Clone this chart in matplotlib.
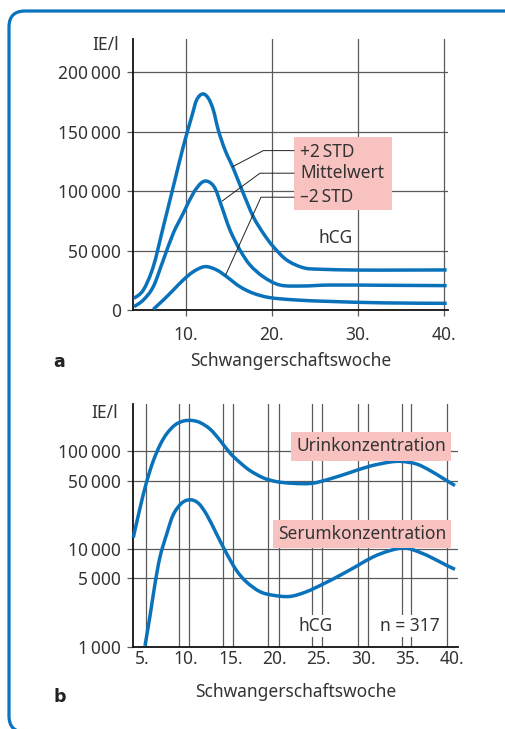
import numpy as np
import matplotlib
matplotlib.use("Agg")
import matplotlib.pyplot as plt
from matplotlib.patches import FancyBboxPatch, Rectangle, PathPatch
from matplotlib.path import Path
from matplotlib.ticker import FixedLocator, NullLocator, FixedFormatter

plt.rcParams['font.family'] = ['Noto Sans', 'DejaVu Sans']

# ---------------------------------------------------------------
# data
# ---------------------------------------------------------------
# panel a: hCG, IE/l, vs. week of pregnancy
weeks_hi = [3.99, 5.07, 6.23, 7.4, 8.56, 9.72, 10.7, 11.28, 11.98, 12.63, 13.21,
            13.79, 14.57, 15.53, 16.7, 17.86, 19.02, 20.19, 21.74, 23.67, 25.6,
            30.0, 35.0, 40.35]
std_hi = [9800, 16800, 36400, 70100, 103800, 137500, 162700, 176800, 181800,
          178200, 168400, 151500, 134700, 119300, 98200, 78500, 64600, 53300,
          42100, 35600, 34300, 33600, 33600, 33700]

weeks_mean = [3.99, 5.07, 6.23, 7.4, 8.56, 9.72, 10.88, 11.86, 12.63, 13.41,
              14.19, 15.15, 16.31, 17.48, 19.02, 20.97, 23.67, 26.8, 33.0, 40.35]
mean_val = [2800, 8400, 19600, 42100, 64600, 81400, 98200, 107200, 108000,
            102400, 87000, 67300, 50500, 37900, 28000, 21000, 20200, 21000,
            20800, 20500]

weeks_lo = [6.23, 7.4, 8.56, 9.72, 10.88, 12.24, 13.6, 14.77, 16.31, 17.86,
            19.8, 22.9, 26.8, 33.0, 40.35]
std_lo = [600, 8400, 16800, 25300, 32200, 36500, 33700, 28000, 19600, 14100,
          10400, 8400, 7200, 6000, 5600]

a_yticks = [0, 50000, 100000, 150000, 200000]
a_ylabels = ['0', '50\u2009000', '100\u2009000', '150\u2009000', '200\u2009000']
a_xticks = [10, 20, 30, 40]
a_xlabels = ['10.', '20.', '30.', '40.']
a_legend = ['+2\u2009STD', 'Mittelwert', '\u20132\u2009STD']

# panel b: urine and serum concentration (log scale)
weeks_urin = [4.03, 4.79, 5.54, 6.29, 7.05, 7.8, 8.74, 9.68, 10.63, 11.57,
              12.7, 13.82, 14.95, 16.08, 17.21, 18.72, 20.23, 22.11, 24.19,
              26.25, 28.51, 30.77, 33.03, 34.35, 36.05, 37.55, 39.06, 40.38]
urin = [13100, 26300, 48900, 79800, 116000, 151000, 186000, 204000, 207000,
        197000, 169000, 130000, 96200, 76800, 63600, 53500, 48900, 47000,
        47000, 52200, 60600, 70500, 77600, 78800, 74100, 63700, 52700, 44600]

weeks_serum = [5.35, 5.92, 6.48, 7.05, 7.8, 8.55, 9.5, 10.44, 11.37, 12.32,
               13.45, 14.58, 15.71, 16.84, 18.34, 19.85, 21.73, 23.62, 25.5,
               27.38, 29.27, 31.15, 33.03, 34.73, 36.42, 37.93, 39.44, 40.38]
serum = [1020, 2070, 4390, 8320, 14200, 22500, 29500, 31900, 29500, 22500,
         14200, 8970, 6000, 4580, 3660, 3360, 3270, 3660, 4390, 5370, 6680,
         8320, 9630, 10240, 9240, 8000, 6800, 6200]

b_yticks = [1000, 5000, 10000, 50000, 100000]
b_ylabels = ['1\u2009000', '5\u2009000', '10\u2009000', '50\u2009000', '100\u2009000']
b_xticks = [5, 10, 15, 20, 25, 30, 35, 40]
b_xlabels = ['5.', '10.', '15.', '20.', '25.', '30.', '35.', '40.']

# ---------------------------------------------------------------
BLUE = '#0a72ba'
PINK = '#f8c2c0'
GRID = '#5a5a5a'
TXT = '#333333'
FS = 12.5


def smooth_curve(ax, xs, ys, log=False, **kw):
    """Draw a line through the points as a Catmull-Rom (cubic Bezier) path."""
    x = np.asarray(xs, float)
    y = np.log10(ys) if log else np.asarray(ys, float)
    verts = [(x[0], y[0])]
    codes = [Path.MOVETO]
    n = len(x)
    for i in range(n - 1):
        p0 = np.array([x[max(i - 1, 0)], y[max(i - 1, 0)]])
        p1 = np.array([x[i], y[i]])
        p2 = np.array([x[i + 1], y[i + 1]])
        p3 = np.array([x[min(i + 2, n - 1)], y[min(i + 2, n - 1)]])
        c1 = p1 + (p2 - p0) / 6.0
        c2 = p2 - (p3 - p1) / 6.0
        verts += [tuple(c1), tuple(c2), tuple(p2)]
        codes += [Path.CURVE4] * 3
    verts = np.array(verts)
    if log:
        verts[:, 1] = 10 ** verts[:, 1]
    patch = PathPatch(Path(verts, codes), fill=False, transform=ax.transData,
                      **kw)
    ax.add_patch(patch)
    return patch


fig = plt.figure(figsize=(5.06, 7.29), dpi=100)

# rounded blue frame (partly outside the picture)
frame = FancyBboxPatch((0.09, -0.03), 5.14, 7.21,
                       boxstyle="round,pad=0,rounding_size=0.16",
                       transform=fig.dpi_scale_trans, fill=False,
                       edgecolor='#0b74c1', linewidth=2.3, clip_on=False)
fig.patches.append(frame)


def style_axes(ax):
    for s in ['top', 'right']:
        ax.spines[s].set_visible(False)
    for s in ['left', 'bottom']:
        ax.spines[s].set_color('#111111')
        ax.spines[s].set_linewidth(1.3)
    ax.tick_params(axis='both', colors=GRID, labelcolor=TXT, labelsize=FS,
                   width=0.9)


curve_kw = dict(edgecolor=BLUE, linewidth=2.5, joinstyle='round',
                capstyle='butt', zorder=4, clip_on=False)

# =========================================================
# a
# =========================================================
ax = fig.add_axes([0.2638, 0.57476, 0.6215, 0.37174])
style_axes(ax)
ax.set_xlim(3.93, 40.5)
ax.set_ylim(0, 228000)
ax.yaxis.set_major_locator(FixedLocator(a_yticks))
ax.yaxis.set_major_formatter(FixedFormatter(a_ylabels))
ax.xaxis.set_major_locator(FixedLocator(a_xticks))
ax.xaxis.set_major_formatter(FixedFormatter(a_xlabels))
ax.tick_params(axis='y', length=4.5, pad=4.5)
ax.tick_params(axis='x', length=4.5, pad=7)
ax.grid(True, color=GRID, linewidth=0.9)
ax.set_axisbelow(True)

for wk, vals in [(weeks_hi, std_hi), (weeks_mean, mean_val), (weeks_lo, std_lo)]:
    smooth_curve(ax, wk, vals, **curve_kw)

# legend box with leader lines
ax.add_patch(Rectangle((22.59, 84200), 33.95 - 22.59, 145400 - 84200,
                       facecolor=PINK, edgecolor='none', zorder=5))
leaders = [
    ([22.59, 19.02, 15.47], [134100, 134100, 120600]),
    ([22.59, 18.64, 14.26], [115100, 115100, 91750]),
    ([22.59, 18.76, 14.65], [94900, 94900, 29460]),
]
label_y = [133200, 115100, 94900]
for (lx, ly), txt, ty in zip(leaders, a_legend, label_y):
    ax.plot(lx, ly, color='#222222', lw=0.7, zorder=6)
    ax.text(23.3, ty, txt, fontsize=FS, color=TXT, va='center', ha='left',
            zorder=7)

ax.text(25.4, 60600, 'hCG', fontsize=FS, color=TXT, va='center', ha='left')
ax.text(-0.045, 223000, 'IE/l', transform=ax.get_yaxis_transform(),
        fontsize=FS, color=TXT, ha='right', va='center')
ax.set_xlabel('Schwangerschaftswoche', fontsize=FS, color=TXT, labelpad=6)
fig.text(59 / 506, 1 - 362 / 729, 'a', fontsize=FS, fontweight='bold',
         family='DejaVu Sans', color='#222222', ha='center', va='center')

# =========================================================
# b
# =========================================================
bx = fig.add_axes([0.2628, 0.1129, 0.6423, 0.3329])
style_axes(bx)
bx.set_yscale('log')
bx.set_xlim(3.994, 40.72)
bx.set_ylim(1000, 305000)
bx.yaxis.set_major_locator(FixedLocator(b_yticks))
bx.yaxis.set_major_formatter(FixedFormatter(b_ylabels))
bx.yaxis.set_minor_locator(NullLocator())
bx.xaxis.set_major_locator(FixedLocator(b_xticks))
bx.xaxis.set_major_formatter(FixedFormatter(b_xlabels))
bx.tick_params(axis='y', length=4.5, pad=4.5)
bx.tick_params(axis='x', length=0, pad=2.5)
bx.grid(True, axis='y', color=GRID, linewidth=0.9)
for gx in [5.5, 9.25, 10.35, 14.15, 15.25, 19.3, 20.5, 24.25, 25.3,
           29.45, 30.5, 34.35, 35.4, 39.5]:
    bx.axvline(gx, color=GRID, linewidth=0.9, zorder=1)
bx.set_axisbelow(True)

smooth_curve(bx, weeks_urin, urin, log=True, **curve_kw)
smooth_curve(bx, weeks_serum, serum, log=True, **curve_kw)

bx.add_patch(Rectangle((21.86, 80200), 39.89 - 21.86, 158900 - 80200,
                       facecolor=PINK, edgecolor='none', zorder=5))
bx.text(30.89, 113200, 'Urinkonzentration', fontsize=FS, color=TXT,
        ha='center', va='center', zorder=6)
bx.add_patch(Rectangle((19.85, 10160), 39.89 - 19.85, 19820 - 10160,
                       facecolor=PINK, edgecolor='none', zorder=5))
bx.text(29.87, 14220, 'Serumkonzentration', fontsize=FS, color=TXT,
        ha='center', va='center', zorder=6)

for tx, txt in [(24.67, 'hCG'), (35.33, 'n = 317')]:
    bx.text(tx, 1640, txt, fontsize=FS, color=TXT, ha='center', va='center',
            zorder=6, bbox=dict(facecolor='white', edgecolor='none', pad=1.5))

bx.text(-0.045, 245000, 'IE/l', transform=bx.get_yaxis_transform(),
        fontsize=FS, color=TXT, ha='right', va='center')
bx.set_xlabel('Schwangerschaftswoche', fontsize=FS, color=TXT, labelpad=11)
fig.text(60 / 506, 1 - 697 / 729, 'b', fontsize=FS, fontweight='bold',
         family='DejaVu Sans', color='#222222', ha='center', va='center')

fig.savefig('out.png', dpi=100)
